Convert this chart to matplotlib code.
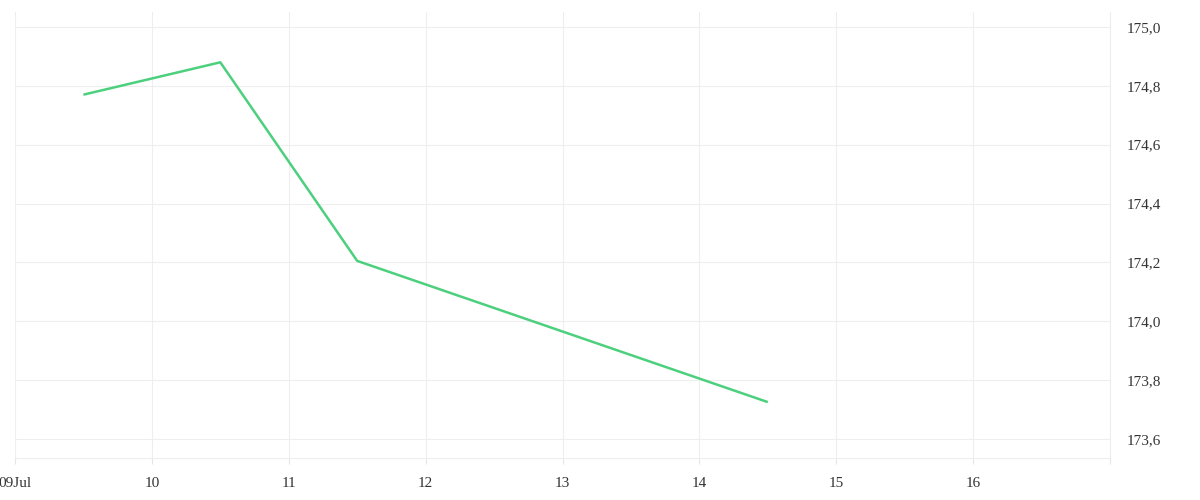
import pandas as pd
import matplotlib
matplotlib.use("Agg")
import matplotlib.pyplot as plt
import matplotlib.dates as mdates
from matplotlib.ticker import FuncFormatter

times = ["2024-07-09 12:00", "2024-07-10 12:00", "2024-07-11 12:00", "2024-07-14 12:00"]
prices = [174.77, 174.88, 174.205, 173.725]
y_ticks = [173.6, 173.8, 174.0, 174.2, 174.4, 174.6, 174.8, 175.0]

df = pd.DataFrame({"ts": pd.to_datetime(times), "close": prices})

plt.rcParams["font.family"] = ["Liberation Serif", "DejaVu Serif"]
fig = plt.figure(figsize=(12, 5), dpi=100)
ax = fig.add_axes([15 / 1200, 1 - 458 / 500, 1095 / 1200, 446 / 500])

ax.plot(df["ts"], df["close"], color="#4cd07d", lw=1.8, solid_capstyle="butt")

ax.set_xlim(pd.Timestamp("2024-07-09"), pd.Timestamp("2024-07-17"))
ax.set_ylim(173.535, 175.051)
ax.xaxis.set_major_locator(mdates.DayLocator())

def fmt_day(x, pos):
    d = mdates.num2date(x)
    if d.day == 9:
        return d.strftime("%d%b")
    if d.day == 17:
        return ""
    return d.strftime("%d")

ax.xaxis.set_major_formatter(FuncFormatter(fmt_day))
ax.set_yticks(y_ticks)
ax.yaxis.set_major_formatter(FuncFormatter(lambda v, p: f"{v:.1f}".replace(".", ",")))
ax.yaxis.tick_right()

ax.grid(True, color="#eeeeee", lw=0.8)
ax.set_axisbelow(True)
for side in ["top", "left"]:
    ax.spines[side].set_visible(False)
ax.spines["bottom"].set_color("#eeeeee")
ax.spines["right"].set_color("#eeeeee")

ax.tick_params(axis="x", length=4, color="#e6e6e6", pad=10, labelsize=11, labelcolor="#333333")
ax.tick_params(axis="y", length=0, pad=12, labelsize=11, labelcolor="#333333")
for lbl in ax.get_yticklabels():
    lbl.set_y(lbl.get_position()[1])

plt.savefig("out.png", dpi=100)
